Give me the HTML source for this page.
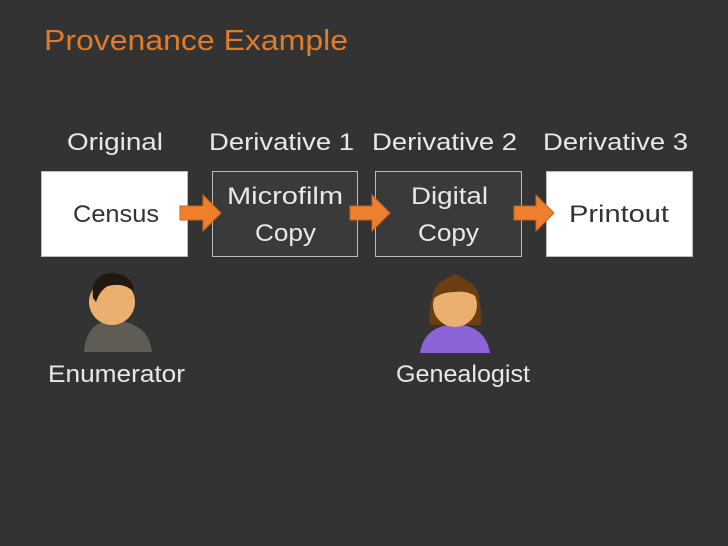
<!DOCTYPE html>
<html><head><style>
body{margin:0;width:728px;height:546px;background:#333333;overflow:hidden;font-family:"Liberation Sans",sans-serif;}
svg{display:block}
</style></head><body>
<svg width="728" height="546" xmlns="http://www.w3.org/2000/svg" font-family="Liberation Sans, sans-serif">
<rect width="728" height="546" fill="#333333"/>
<text x="44" y="50" font-size="29" fill="#e07b2a" textLength="304" lengthAdjust="spacingAndGlyphs">Provenance Example</text>
<g font-size="24" fill="#e8e8e8">
<text x="67" y="150" textLength="96" lengthAdjust="spacingAndGlyphs">Original</text>
<text x="209" y="150" textLength="145" lengthAdjust="spacingAndGlyphs">Derivative 1</text>
<text x="372" y="150" textLength="145" lengthAdjust="spacingAndGlyphs">Derivative 2</text>
<text x="543" y="150" textLength="145" lengthAdjust="spacingAndGlyphs">Derivative 3</text>
</g>
<rect x="41.5" y="171.5" width="146" height="85" fill="#ffffff" stroke="#bbb"/>
<rect x="212.5" y="171.5" width="145" height="85" fill="#3a3a3a" stroke="#bbb"/>
<rect x="375.5" y="171.5" width="146" height="85" fill="#3a3a3a" stroke="#bbb"/>
<rect x="546.5" y="171.5" width="146" height="85" fill="#ffffff" stroke="#bbb"/>
<g font-size="24">
<text x="73" y="222" fill="#333" textLength="86" lengthAdjust="spacingAndGlyphs">Census</text>
<text x="227" y="204" fill="#e8e8e8" textLength="116" lengthAdjust="spacingAndGlyphs">Microfilm</text>
<text x="255" y="241" fill="#e8e8e8" textLength="61" lengthAdjust="spacingAndGlyphs">Copy</text>
<text x="411" y="204" fill="#e8e8e8" textLength="77" lengthAdjust="spacingAndGlyphs">Digital</text>
<text x="418" y="241" fill="#e8e8e8" textLength="61" lengthAdjust="spacingAndGlyphs">Copy</text>
<text x="569" y="222" fill="#333" textLength="100" lengthAdjust="spacingAndGlyphs">Printout</text>
</g>
<g fill="#ee7f2d" stroke="#c8641c" stroke-width="1">
<polygon points="180,206 203,206 203,195 221,213 203,231 203,220 180,220"/>
<polygon points="350,206 372,206 372,195 390,213 372,231 372,220 350,220"/>
<polygon points="514,206 536,206 536,195 554,213 536,231 536,220 514,220"/>
</g>
<path d="M84,352 Q86,322 112,320 Q149,322 152,352 Z" fill="#5f5c55"/>
<circle cx="112" cy="302" r="23" fill="#ebb070"/>
<path d="M93,298 Q90,274 112,273 Q134,275 134,292 Q124,282 108,286 Q100,290 96,302 Z" fill="#22180f"/>
<path d="M420,353 Q424,326 455,324 Q486,326 490,353 Z" fill="#8a64d8"/>
<path d="M430,325 Q426,286 455,274 Q484,286 481,325 Z" fill="#6b3d12"/>
<circle cx="455" cy="305" r="22" fill="#ebb070"/>
<path d="M432,300 Q434,278 455,278 Q476,278 480,300 Q470,290 455,292 Q440,292 432,300 Z" fill="#6b3d12"/>
<g font-size="24" fill="#e8e8e8">
<text x="48" y="382" textLength="137" lengthAdjust="spacingAndGlyphs">Enumerator</text>
<text x="396" y="382" textLength="134" lengthAdjust="spacingAndGlyphs">Genealogist</text>
</g>
</svg>
</body></html>
